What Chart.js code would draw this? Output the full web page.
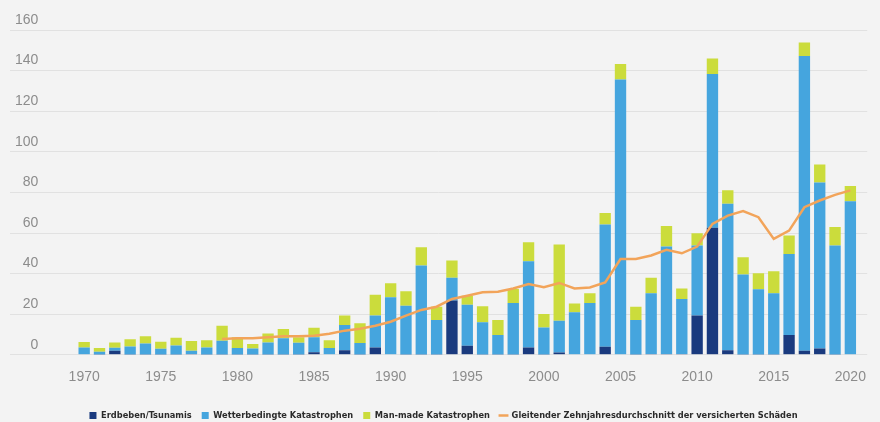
<!DOCTYPE html>
<html>
<head>
<meta charset="utf-8">
<script src="https://cdn.jsdelivr.net/npm/chart.js@4/dist/chart.umd.min.js"></script>
<style>
  html, body { margin: 0; padding: 0; background: #f3f3f3; }
  #wrap { width: 880px; height: 422px; position: relative; }
</style>
</head>
<body>
<div id="wrap"><canvas id="chart"></canvas></div>
<script>
// Data (Mrd. USD)
const YEARS = [1970, 1971, 1972, 1973, 1974, 1975, 1976, 1977, 1978, 1979,
    1980, 1981, 1982, 1983, 1984, 1985, 1986, 1987, 1988, 1989,
    1990, 1991, 1992, 1993, 1994, 1995, 1996, 1997, 1998, 1999,
    2000, 2001, 2002, 2003, 2004, 2005, 2006, 2007, 2008, 2009,
    2010, 2011, 2012, 2013, 2014, 2015, 2016, 2017, 2018, 2019, 2020];

const QUAKE = [0.3, 0.2, 2.0, 0.2, 0.2, 0.1, 0.2, 0.4, 0.1, 0.1,
    0.1, 0.1, 0.1, 0.1, 0.1, 1.2, 0.3, 2.3, 0.2, 3.6,
    0.3, 0.2, 0.2, 0.2, 26.7, 4.4, 0.1, 0.1, 0.2, 3.6,
    0.1, 1.1, 0.3, 0.3, 4.0, 0.3, 0.1, 0.4, 0.4, 0.4,
    19.4, 62.6, 2.3, 0.1, 0.1, 0.2, 9.7, 2.0, 3.1, 0.1, 0.3];

const WEATHER = [3.3, 1.3, 1.5, 3.9, 5.4, 2.9, 4.4, 1.6, 3.5, 6.8,
    3.2, 3.0, 6.0, 8.1, 5.8, 7.5, 3.0, 12.4, 5.6, 15.7,
    28.0, 24.0, 43.8, 16.9, 11.2, 20.3, 15.9, 9.6, 25.3, 42.5,
    13.4, 15.7, 20.6, 25.2, 60.2, 135.3, 17.0, 29.9, 52.9, 27.1,
    34.4, 75.7, 72.1, 39.4, 32.2, 30.1, 40.0, 145.2, 81.8, 53.7, 75.3];

const MANMADE = [2.7, 1.8, 2.6, 3.6, 3.5, 3.4, 3.8, 4.8, 3.6, 7.4,
    5.3, 2.2, 4.4, 4.5, 2.7, 4.6, 3.9, 4.6, 9.7, 10.3,
    6.9, 7.1, 9.0, 6.6, 8.5, 4.4, 7.9, 7.4, 6.9, 9.4,
    6.6, 37.5, 4.4, 4.8, 5.6, 7.6, 6.6, 7.6, 10.1, 5.1,
    6.1, 7.7, 6.6, 8.6, 7.9, 10.9, 9.1, 6.7, 8.9, 9.1, 7.5];

const AVG10 = [null, null, null, null, null, null, null, null, null, 7.8,
    8.1, 8.1, 8.6, 9.1, 9.1, 9.4, 10.4, 11.9, 12.8, 14.3,
    16.3, 19.3, 22.1, 23.7, 27.5, 29.1, 30.8, 31.1, 32.7, 34.9,
    33.3, 35.4, 32.7, 33.2, 35.7, 47.2, 47.2, 48.9, 51.7, 50.0,
    53.3, 64.5, 68.6, 70.8, 67.8, 57.1, 61.2, 72.7, 76.0, 78.8, 81.0];

const X_TICKS = [1970, 1975, 1980, 1985, 1990, 1995, 2000, 2005, 2010, 2015, 2020];

const NAVY = '#1a3a7e';
const BLUE = '#45a5de';
const LIME = '#cbdc3c';
const ORANGE = '#f2a45a';

function barSet(label, data, color) {
    return {
        type: 'bar', label: label, data: data, backgroundColor: color, borderWidth: 0,
        stack: 'cat', order: 1, pointStyle: 'rect',
        barPercentage: 0.95, categoryPercentage: 0.78
    };
}

const ctx = document.getElementById('chart').getContext('2d');
new Chart(ctx, {
    type: 'bar',
    data: {
        labels: YEARS,
        datasets: [
            barSet('Erdbeben/Tsunamis', QUAKE, NAVY),
            barSet('Wetterbedingte Katastrophen', WEATHER, BLUE),
            barSet('Man-made Katastrophen', MANMADE, LIME),
            {
                type: 'line', label: 'Gleitender Zehnjahresdurchschnitt der versicherten Schäden',
                data: AVG10, borderColor: ORANGE, backgroundColor: ORANGE, borderWidth: 2.5,
                pointRadius: 0, pointStyle: 'line', tension: 0, stack: 'avg', order: 0
            }
        ]
    },
    options: {
        responsive: true,
        maintainAspectRatio: false,
        animation: false,
        layout: { padding: { left: 10, right: 3, top: 30, bottom: -8 } },
        plugins: {
            tooltip: { enabled: false },
            legend: {
                position: 'bottom',
                labels: {
                    usePointStyle: true,
                    boxWidth: 7, boxHeight: 7,
                    padding: 10,
                    color: '#2b2b2b',
                    font: { family: '"Liberation Sans Narrow", "DejaVu Sans Condensed", sans-serif', size: 9.2, weight: 'bold' },
                    sort: (a, b) => a.datasetIndex - b.datasetIndex
                }
            }
        },
        scales: {
            x: {
                type: 'linear',
                offset: false,
                min: 1965.16, max: 2021.1,
                stacked: true,
                grid: { display: false, offset: false, drawTicks: false },
                border: { display: false },
                afterBuildTicks: (scale) => { scale.ticks = X_TICKS.map(v => ({ value: v })); },
                afterFit: (scale) => { scale.height = 46; },
                ticks: {
                    padding: 14,
                    color: '#8c8c8c',
                    font: { family: '"Liberation Sans", sans-serif', size: 14 },
                    callback: (v) => String(v)
                }
            },
            y: {
                min: 0, max: 160,
                stacked: true,
                border: { display: false },
                grid: { color: '#e1e1e1', lineWidth: 1, drawTicks: false },
                afterFit: (scale) => { scale.width = 0; },
                ticks: {
                    stepSize: 20,
                    mirror: true,
                    crossAlign: 'far',
                    padding: 5,
                    labelOffset: -10,
                    color: '#8c8c8c',
                    font: { family: '"Liberation Sans", sans-serif', size: 14 }
                }
            }
        }
    }
});
</script>
</body>
</html>
